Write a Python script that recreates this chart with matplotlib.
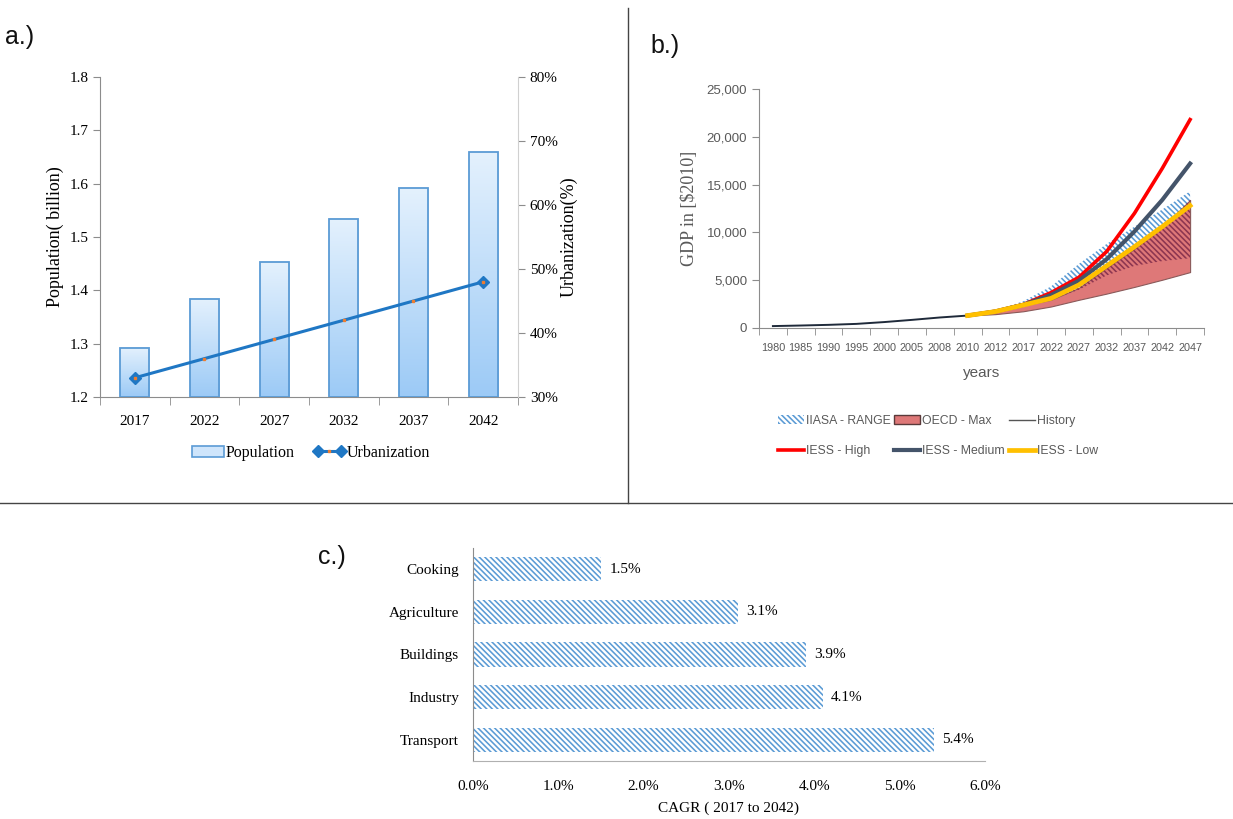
import numpy as np
import matplotlib
matplotlib.use("Agg")
import matplotlib.pyplot as plt
from matplotlib.patches import Patch
from matplotlib.lines import Line2D
from matplotlib.ticker import FuncFormatter, FixedLocator
from matplotlib.colors import LinearSegmentedColormap
from matplotlib.legend_handler import HandlerLine2D, HandlerTuple

# ---------------- data ----------------
years_a = ["2017", "2022", "2027", "2032", "2037", "2042"]
population_bn = [1.292, 1.384, 1.453, 1.534, 1.591, 1.659]
urbanization_pct = [33, 36, 39, 42, 45, 48]

gdp_years = ["1980", "1985", "1990", "1995", "2000", "2005", "2008", "2010",
             "2012", "2017", "2022", "2027", "2032", "2037", "2042", "2047"]
history = [200, 260, 330, 430, 620, 850, 1100, 1300]          # 1980 - 2010
# projections, 2010 - 2047
iess_high = [1300, 1750, 2450, 3700, 5300, 8000, 12000, 16700, 21800]
iess_medium = [1300, 1730, 2420, 3450, 4950, 7200, 10100, 13400, 17200]
iess_low = [1300, 1720, 2400, 3100, 4500, 6500, 8500, 10600, 12800]
iiasa_low = [1300, 1600, 2200, 2950, 4000, 5500, 6500, 7000, 7300]
iiasa_high = [1300, 1800, 2800, 4350, 6700, 8800, 10600, 12400, 14300]
oecd_low = [1300, 1450, 1750, 2250, 2950, 3600, 4300, 5050, 5850]
oecd_max = [1300, 1750, 2350, 2950, 4200, 6300, 8300, 10500, 13400]

sectors = ["Transport", "Industry", "Buildings", "Agriculture", "Cooking"]
cagr_pct = [5.4, 4.1, 3.9, 3.1, 1.5]

# ---------------- style ----------------
W, H = 1233, 819
SERIF = "Liberation Serif"
SANS = "Liberation Sans"
GRAY_TXT = "#595959"
AX_GRAY = "#8c8c8c"
DENSE = "\\" * 6
plt.rcParams["hatch.linewidth"] = 1.15

fig = plt.figure(figsize=(W / 100, H / 100), dpi=100)


def fbox(x0, y0, x1, y1):
    """Pixel box (left, top, right, bottom) -> figure-fraction rect."""
    return [x0 / W, 1 - y1 / H, (x1 - x0) / W, (y1 - y0) / H]


# ---------------- panel a: population & urbanization ----------------
axa = fig.add_axes(fbox(100, 77, 518, 397))
xa = np.arange(len(years_a))
bw = 0.42
base = 1.2
bars = axa.bar(xa, np.array(population_bn) - base, bottom=base, width=bw,
               facecolor="none", edgecolor="#5b9bd5", linewidth=1.3, zorder=3)
grad = np.linspace(0, 1, 256).reshape(-1, 1)
bar_cmap = LinearSegmentedColormap.from_list("barfill", ["#9ccaf6", "#e4f1fd"])
for b in bars:
    axa.imshow(grad, extent=[b.get_x(), b.get_x() + b.get_width(),
                             b.get_y(), b.get_y() + b.get_height()],
               origin="lower", cmap=bar_cmap, aspect="auto", zorder=2)
axa.set_xlim(-0.5, len(years_a) - 0.5)
axa.set_ylim(1.2, 1.8)
axa.set_yticks(np.arange(1.2, 1.81, 0.1))
axa.yaxis.set_major_formatter(FuncFormatter(lambda v, p: f"{v:.1f}"))
axa.set_xticks(xa)
axa.set_xticklabels(years_a)
axa.xaxis.set_minor_locator(FixedLocator(np.arange(-0.5, len(years_a), 1.0)))
axa.tick_params(axis="x", which="major", length=0, pad=13)
axa.tick_params(axis="x", which="minor", length=6, color=AX_GRAY)
axa.tick_params(axis="y", length=5, color=AX_GRAY)
for lab in axa.get_xticklabels() + axa.get_yticklabels():
    lab.set_fontfamily(SERIF)
    lab.set_fontsize(11)
for s in ("top", "right"):
    axa.spines[s].set_visible(False)
for s in ("left", "bottom"):
    axa.spines[s].set_color(AX_GRAY)
axa.set_ylabel("Population( billion)", fontfamily=SERIF, fontsize=13, labelpad=4)

ax2 = axa.twinx()
ax2.set_ylim(30, 80)
ax2.set_yticks(np.arange(30, 81, 10))
ax2.yaxis.set_major_formatter(FuncFormatter(lambda v, p: f"{v:.0f}%"))
ax2.tick_params(axis="y", length=5, color=AX_GRAY)
for lab in ax2.get_yticklabels():
    lab.set_fontfamily(SERIF)
    lab.set_fontsize(11)
for s in ("top", "left", "bottom"):
    ax2.spines[s].set_visible(False)
ax2.spines["right"].set_color("#d0d0d0")
ax2.set_ylabel("Urbanization(%)", fontfamily=SERIF, fontsize=13, labelpad=2)
LINE_BLUE = "#1f77c4"
ax2.plot(xa, urbanization_pct, color=LINE_BLUE, lw=2.2, zorder=4)
ax2.plot(xa[[0, -1]], np.array(urbanization_pct)[[0, -1]], ls="none",
         marker="D", ms=6, color=LINE_BLUE, zorder=5)
ax2.plot(xa, urbanization_pct, ls="none", marker="s", ms=1.8,
         color="#ed7d31", zorder=6)

h_pop = Patch(facecolor="#cfe5fb", edgecolor="#5b9bd5", lw=1.2)
h_line = Line2D([], [], color=LINE_BLUE, lw=2.2, marker="D", ms=6)
h_dot = Line2D([], [], ls="none", marker="s", ms=1.8, color="#ed7d31")
fig.legend([h_pop, (h_line, h_dot)], ["Population", "Urbanization"],
           loc="center", bbox_to_anchor=(311 / W, 1 - 453 / H), ncol=2,
           frameon=False, prop={"family": SERIF, "size": 11.5},
           handlelength=2.0, handletextpad=0.1, columnspacing=1.2,
           handler_map={h_line: HandlerLine2D(numpoints=2),
                        h_dot: HandlerLine2D(numpoints=1),
                        tuple: HandlerTuple(ndivide=1)})

# ---------------- panel b: GDP scenarios ----------------
axb = fig.add_axes(fbox(759, 89, 1204, 328))
xb = np.arange(len(gdp_years))
xh = xb[:len(history)]
xp = xb[len(history) - 1:]
axb.fill_between(xp, iiasa_low, iiasa_high, facecolor="none",
                 edgecolor="#5b9bd5", hatch=DENSE, lw=0, zorder=1)
axb.fill_between(xp, oecd_low, oecd_max, facecolor="#de7878",
                 edgecolor="#8a5a5a", lw=0.8, zorder=2)
axb.fill_between(xp, np.maximum(iiasa_low, oecd_low), np.minimum(iiasa_high, oecd_max),
                 where=np.array(oecd_max) > np.array(iiasa_low), interpolate=True,
                 facecolor="none", edgecolor="#8c3550", hatch=DENSE, lw=0, zorder=3)
axb.plot(xh, history, color="#1f2a3a", lw=1.4, zorder=4)
axb.plot(xp, iess_high, color="#ff0000", lw=2.6, zorder=5)
axb.plot(xp, iess_medium, color="#44546a", lw=3.0, zorder=6)
axb.plot(xp, iess_low, color="#ffc000", lw=3.4, zorder=7)
axb.set_xlim(-0.5, len(gdp_years) - 0.5)
axb.set_ylim(0, 25000)
axb.set_yticks(np.arange(0, 25001, 5000))
axb.yaxis.set_major_formatter(FuncFormatter(lambda v, p: f"{v:,.0f}"))
axb.set_xticks(xb)
axb.set_xticklabels(gdp_years)
axb.xaxis.set_minor_locator(FixedLocator(np.arange(-0.5, len(gdp_years), 1.0)))
axb.tick_params(axis="x", which="major", length=0, pad=11, labelcolor=GRAY_TXT)
axb.tick_params(axis="x", which="minor", length=5, color=AX_GRAY)
axb.tick_params(axis="y", length=5, color=AX_GRAY, labelcolor=GRAY_TXT)
for lab in axb.get_xticklabels():
    lab.set_fontfamily(SANS)
    lab.set_fontsize(7.8)
for lab in axb.get_yticklabels():
    lab.set_fontfamily(SANS)
    lab.set_fontsize(9.5)
for s in ("top", "right"):
    axb.spines[s].set_visible(False)
for s in ("left", "bottom"):
    axb.spines[s].set_color(AX_GRAY)
axb.set_ylabel(r"GDP in [\$2010]", fontfamily=SERIF, fontsize=13,
               color=GRAY_TXT, labelpad=6)
axb.set_xlabel("years", fontfamily=SANS, fontsize=11, color=GRAY_TXT, labelpad=9)

hb = [Patch(facecolor="none", edgecolor="#5b9bd5", hatch=DENSE, lw=0),
      Line2D([], [], color="#ff0000", lw=2.6),
      Patch(facecolor="#de7878", edgecolor="#5a3a3a", lw=1.0),
      Line2D([], [], color="#44546a", lw=3.0),
      Line2D([], [], color="#555555", lw=1.0),
      Line2D([], [], color="#ffc000", lw=3.4)]
lb = ["IIASA - RANGE", "IESS - High", "OECD - Max", "IESS - Medium",
      "History", "IESS - Low"]
leg_b = fig.legend(hb, lb, loc="center", bbox_to_anchor=(938 / W, 1 - 436 / H),
                   ncol=3, frameon=False, prop={"family": SANS, "size": 8.8},
                   handlelength=2.1, handletextpad=0.2, columnspacing=0.3,
                   labelspacing=1.5)
for t in leg_b.get_texts():
    t.set_color(GRAY_TXT)

# ---------------- panel c: CAGR by sector ----------------
axc = fig.add_axes(fbox(473, 548, 985, 761))
yc = np.arange(len(sectors))
hbars = axc.barh(yc, cagr_pct, height=0.57, facecolor="white",
                 edgecolor="#5b9bd5", hatch=DENSE, lw=0)
axc.bar_label(hbars, labels=[f"{v:.1f}%" for v in cagr_pct], padding=6,
              fontfamily=SERIF, fontsize=11)
axc.set_xlim(0, 6)
axc.set_ylim(-0.5, len(sectors) - 0.5)
axc.set_xticks(np.arange(0, 6.01, 1))
axc.xaxis.set_major_formatter(FuncFormatter(lambda v, p: f"{v:.1f}%"))
axc.set_yticks(yc)
axc.set_yticklabels(sectors)
axc.tick_params(axis="both", length=0)
axc.tick_params(axis="x", pad=14)
axc.tick_params(axis="y", pad=10)
for lab in axc.get_xticklabels() + axc.get_yticklabels():
    lab.set_fontfamily(SERIF)
    lab.set_fontsize(11)
for s in ("top", "right"):
    axc.spines[s].set_visible(False)
axc.spines["left"].set_color(AX_GRAY)
axc.spines["bottom"].set_color("#b0b0b0")
axc.set_xlabel("CAGR ( 2017 to 2042)", fontfamily=SERIF, fontsize=11, labelpad=6)

# ---------------- panel labels and dividers ----------------
for txt, px, py in (("a.)", 5, 37), ("b.)", 650, 46), ("c.)", 318, 557)):
    fig.text(px / W, 1 - py / H, txt, fontsize=18, fontfamily=SANS,
             va="center", ha="left", color="#111111")
fig.add_artist(Line2D([628 / W, 628 / W], [1 - 8 / H, 1 - 503 / H],
                      color="#444444", lw=1.0))
fig.add_artist(Line2D([0, 1], [1 - 503 / H, 1 - 503 / H], color="#444444", lw=1.0))

fig.savefig("out.png", dpi=100)
